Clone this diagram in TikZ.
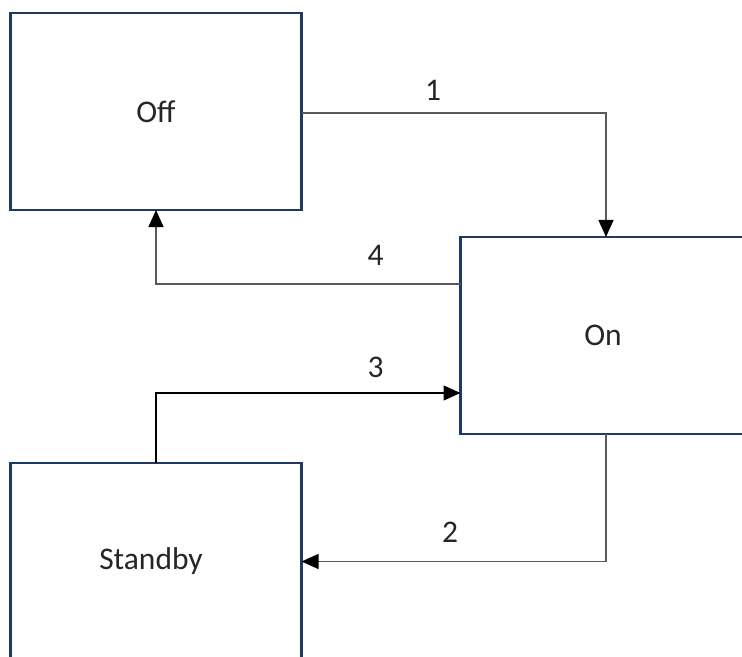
\documentclass[tikz,border=0pt]{standalone}
\usepackage{fontspec}
\setmainfont{Carlito}
\usetikzlibrary{arrows.meta}
\definecolor{boxblue}{HTML}{1F3864}
\definecolor{wiregray}{HTML}{595959}
\tikzset{
  statebox/.style={draw=boxblue, line width=2.8bp, fill=white, inner sep=0pt, outer sep=0pt,
    minimum width=291bp, minimum height=197bp, font=\fontsize{31.5bp}{36bp}\selectfont, text=black!85},
  wire/.style={draw=wiregray, line width=1.3bp, arrows={-Triangle[length=17bp,width=15bp,color=black]}},
  numlabel/.style={inner sep=0pt, font=\fontsize{31.5bp}{36bp}\selectfont, text=black!85}
}
\begin{document}
\begin{tikzpicture}[x=1bp,y=-1bp]
\useasboundingbox (0,0) rectangle (742,657);
\clip (0,0) rectangle (742,657);
\node[statebox] (off) at (156,111.5) {Off};
\node[statebox] (on) at (606,335.5) {\kern-6bp On};
\node[statebox] (standby) at (156,561.5) {\kern-10bp Standby};
\draw[wire] ([yshift=-1.5bp]off.east) -| (on.north);
\draw[wire] ([yshift=51.5bp]on.west) -| (off.south);
\draw[wire, draw=black] (standby.north) |- ([yshift=-57.5bp]on.west);
\draw[wire] (on.south) |- (standby.east);
\node[numlabel] (l1) at (433,90) {1};
\node[numlabel] (l4) at (375.5,255) {4};
\node[numlabel] (l3) at (375.5,367) {3};
\node[numlabel] (l2) at (450,532) {2};
\end{tikzpicture}
\end{document}
